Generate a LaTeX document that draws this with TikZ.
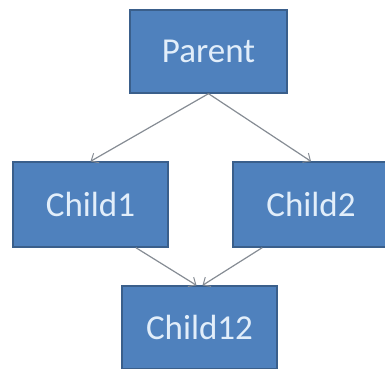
\documentclass[tikz,border=0pt]{standalone}
\usepackage{fontspec}
\setmainfont{Carlito}
\usetikzlibrary{arrows.meta,calc}
\definecolor{boxfill}{HTML}{4F81BD}
\definecolor{boxline}{HTML}{3A5F8B}
\definecolor{boxtext}{HTML}{E2EEFA}
\definecolor{linkgray}{HTML}{868C94}
\tikzset{
  box/.style={draw=boxline, line width=1.3pt, fill=boxfill, text=boxtext,
    font=\fontsize{35}{35}\selectfont, inner sep=0pt},
  link/.style={draw=linkgray, line width=1.2pt,
    -{Straight Barb[length=6pt,width=11pt,line width=1pt]}}
}
\begin{document}
\begin{tikzpicture}[x=1pt,y=-1pt]
  \useasboundingbox (0,0) rectangle (385,368);
  \clip (0,0) rectangle (385,368);
  % boxes
  \node[box, minimum width=157pt, minimum height=83pt] (parent) at (208.5,51.5) {Parent};
  \node[box, minimum width=155pt, minimum height=85pt] (child1) at (90.5,204.5) {Child1};
  \node[box, minimum width=156pt, minimum height=85pt] (child2) at (311,204.5) {Child2};
  \node[box, minimum width=155pt, minimum height=83pt] (child12) at (199.5,327.5) {Child12};
  % connector end points
  \coordinate (c1out) at ($(child1.south west)!0.79!(child1.south east)$);
  \coordinate (c2out) at ($(child2.south west)!0.19!(child2.south east)$);
  \coordinate (c12inL) at ($(child12.north)+(-3,0)$);
  \coordinate (c12inR) at ($(child12.north)+(3,0)$);
  % connectors
  \draw[link] (parent.south) -- (child1.north);
  \draw[link] (parent.south) -- (child2.north);
  \draw[link] (c1out) -- (c12inL);
  \draw[link] (c2out) -- (c12inR);
\end{tikzpicture}
\end{document}
